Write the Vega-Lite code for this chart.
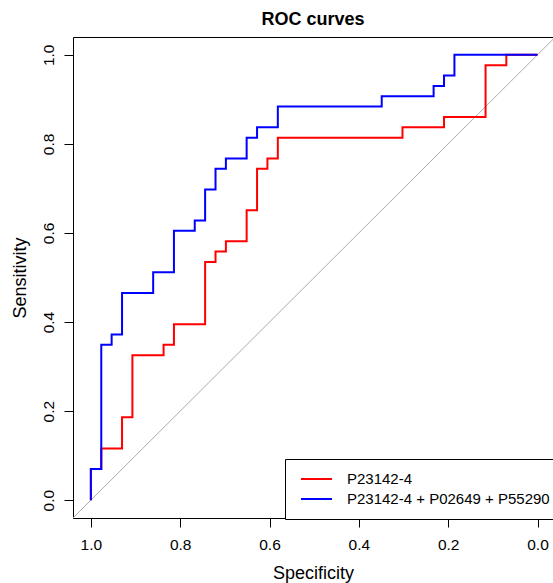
{
  "$schema": "https://vega.github.io/schema/vega-lite/v6.json",
  "autosize": "none",
  "padding": {"left": 73, "top": 37, "right": 0, "bottom": 65},
  "width": 480,
  "height": 481,
  "background": "white",
  "title": {"text": "ROC curves", "fontSize": 18, "fontWeight": "bold", "font": "Liberation Sans", "anchor": "middle", "color": "black", "offset": 8},
  "config": {
    "view": {"stroke": null},
    "font": "Liberation Sans",
    "axis": {"grid": false, "domainColor": "black", "tickColor": "black", "labelColor": "black", "titleColor": "black", "labelFont": "Liberation Sans", "titleFont": "Liberation Sans", "labelFontSize": 15.5, "titleFontSize": 18, "titleFontWeight": "normal", "tickSize": 9, "domainWidth": 1, "tickWidth": 1}
  },
  "datasets": {
    "diag": [{"specificity": 1.04, "sensitivity": -0.04}, {"specificity": -0.04, "sensitivity": 1.04}],
    "roc": [
      {"model": "P23142-4", "i": 1, "specificity": 1, "sensitivity": 0},
      {"model": "P23142-4", "i": 2, "specificity": 1, "sensitivity": 0.0698},
      {"model": "P23142-4", "i": 3, "specificity": 0.9767, "sensitivity": 0.0698},
      {"model": "P23142-4", "i": 4, "specificity": 0.9767, "sensitivity": 0.1163},
      {"model": "P23142-4", "i": 5, "specificity": 0.9302, "sensitivity": 0.1163},
      {"model": "P23142-4", "i": 6, "specificity": 0.9302, "sensitivity": 0.1860},
      {"model": "P23142-4", "i": 7, "specificity": 0.9070, "sensitivity": 0.1860},
      {"model": "P23142-4", "i": 8, "specificity": 0.9070, "sensitivity": 0.3256},
      {"model": "P23142-4", "i": 9, "specificity": 0.8372, "sensitivity": 0.3256},
      {"model": "P23142-4", "i": 10, "specificity": 0.8372, "sensitivity": 0.3488},
      {"model": "P23142-4", "i": 11, "specificity": 0.8140, "sensitivity": 0.3488},
      {"model": "P23142-4", "i": 12, "specificity": 0.8140, "sensitivity": 0.3953},
      {"model": "P23142-4", "i": 13, "specificity": 0.7442, "sensitivity": 0.3953},
      {"model": "P23142-4", "i": 14, "specificity": 0.7442, "sensitivity": 0.5349},
      {"model": "P23142-4", "i": 15, "specificity": 0.7209, "sensitivity": 0.5349},
      {"model": "P23142-4", "i": 16, "specificity": 0.7209, "sensitivity": 0.5581},
      {"model": "P23142-4", "i": 17, "specificity": 0.6977, "sensitivity": 0.5581},
      {"model": "P23142-4", "i": 18, "specificity": 0.6977, "sensitivity": 0.5814},
      {"model": "P23142-4", "i": 19, "specificity": 0.6512, "sensitivity": 0.5814},
      {"model": "P23142-4", "i": 20, "specificity": 0.6512, "sensitivity": 0.6512},
      {"model": "P23142-4", "i": 21, "specificity": 0.6279, "sensitivity": 0.6512},
      {"model": "P23142-4", "i": 22, "specificity": 0.6279, "sensitivity": 0.7442},
      {"model": "P23142-4", "i": 23, "specificity": 0.6047, "sensitivity": 0.7442},
      {"model": "P23142-4", "i": 24, "specificity": 0.6047, "sensitivity": 0.7674},
      {"model": "P23142-4", "i": 25, "specificity": 0.5814, "sensitivity": 0.7674},
      {"model": "P23142-4", "i": 26, "specificity": 0.5814, "sensitivity": 0.8140},
      {"model": "P23142-4", "i": 27, "specificity": 0.3023, "sensitivity": 0.8140},
      {"model": "P23142-4", "i": 28, "specificity": 0.3023, "sensitivity": 0.8372},
      {"model": "P23142-4", "i": 29, "specificity": 0.2093, "sensitivity": 0.8372},
      {"model": "P23142-4", "i": 30, "specificity": 0.2093, "sensitivity": 0.8605},
      {"model": "P23142-4", "i": 31, "specificity": 0.1163, "sensitivity": 0.8605},
      {"model": "P23142-4", "i": 32, "specificity": 0.1163, "sensitivity": 0.9767},
      {"model": "P23142-4", "i": 33, "specificity": 0.0698, "sensitivity": 0.9767},
      {"model": "P23142-4", "i": 34, "specificity": 0.0698, "sensitivity": 1},
      {"model": "P23142-4", "i": 35, "specificity": 0, "sensitivity": 1},
      {"model": "P23142-4 + P02649 + P55290", "i": 1, "specificity": 1, "sensitivity": 0},
      {"model": "P23142-4 + P02649 + P55290", "i": 2, "specificity": 1, "sensitivity": 0.0698},
      {"model": "P23142-4 + P02649 + P55290", "i": 3, "specificity": 0.9767, "sensitivity": 0.0698},
      {"model": "P23142-4 + P02649 + P55290", "i": 4, "specificity": 0.9767, "sensitivity": 0.3488},
      {"model": "P23142-4 + P02649 + P55290", "i": 5, "specificity": 0.9535, "sensitivity": 0.3488},
      {"model": "P23142-4 + P02649 + P55290", "i": 6, "specificity": 0.9535, "sensitivity": 0.3721},
      {"model": "P23142-4 + P02649 + P55290", "i": 7, "specificity": 0.9302, "sensitivity": 0.3721},
      {"model": "P23142-4 + P02649 + P55290", "i": 8, "specificity": 0.9302, "sensitivity": 0.4651},
      {"model": "P23142-4 + P02649 + P55290", "i": 9, "specificity": 0.8605, "sensitivity": 0.4651},
      {"model": "P23142-4 + P02649 + P55290", "i": 10, "specificity": 0.8605, "sensitivity": 0.5116},
      {"model": "P23142-4 + P02649 + P55290", "i": 11, "specificity": 0.8140, "sensitivity": 0.5116},
      {"model": "P23142-4 + P02649 + P55290", "i": 12, "specificity": 0.8140, "sensitivity": 0.6047},
      {"model": "P23142-4 + P02649 + P55290", "i": 13, "specificity": 0.7674, "sensitivity": 0.6047},
      {"model": "P23142-4 + P02649 + P55290", "i": 14, "specificity": 0.7674, "sensitivity": 0.6279},
      {"model": "P23142-4 + P02649 + P55290", "i": 15, "specificity": 0.7442, "sensitivity": 0.6279},
      {"model": "P23142-4 + P02649 + P55290", "i": 16, "specificity": 0.7442, "sensitivity": 0.6977},
      {"model": "P23142-4 + P02649 + P55290", "i": 17, "specificity": 0.7209, "sensitivity": 0.6977},
      {"model": "P23142-4 + P02649 + P55290", "i": 18, "specificity": 0.7209, "sensitivity": 0.7442},
      {"model": "P23142-4 + P02649 + P55290", "i": 19, "specificity": 0.6977, "sensitivity": 0.7442},
      {"model": "P23142-4 + P02649 + P55290", "i": 20, "specificity": 0.6977, "sensitivity": 0.7674},
      {"model": "P23142-4 + P02649 + P55290", "i": 21, "specificity": 0.6512, "sensitivity": 0.7674},
      {"model": "P23142-4 + P02649 + P55290", "i": 22, "specificity": 0.6512, "sensitivity": 0.8140},
      {"model": "P23142-4 + P02649 + P55290", "i": 23, "specificity": 0.6279, "sensitivity": 0.8140},
      {"model": "P23142-4 + P02649 + P55290", "i": 24, "specificity": 0.6279, "sensitivity": 0.8372},
      {"model": "P23142-4 + P02649 + P55290", "i": 25, "specificity": 0.5814, "sensitivity": 0.8372},
      {"model": "P23142-4 + P02649 + P55290", "i": 26, "specificity": 0.5814, "sensitivity": 0.8837},
      {"model": "P23142-4 + P02649 + P55290", "i": 27, "specificity": 0.3488, "sensitivity": 0.8837},
      {"model": "P23142-4 + P02649 + P55290", "i": 28, "specificity": 0.3488, "sensitivity": 0.9070},
      {"model": "P23142-4 + P02649 + P55290", "i": 29, "specificity": 0.2326, "sensitivity": 0.9070},
      {"model": "P23142-4 + P02649 + P55290", "i": 30, "specificity": 0.2326, "sensitivity": 0.9302},
      {"model": "P23142-4 + P02649 + P55290", "i": 31, "specificity": 0.2093, "sensitivity": 0.9302},
      {"model": "P23142-4 + P02649 + P55290", "i": 32, "specificity": 0.2093, "sensitivity": 0.9535},
      {"model": "P23142-4 + P02649 + P55290", "i": 33, "specificity": 0.1860, "sensitivity": 0.9535},
      {"model": "P23142-4 + P02649 + P55290", "i": 34, "specificity": 0.1860, "sensitivity": 1},
      {"model": "P23142-4 + P02649 + P55290", "i": 35, "specificity": 0, "sensitivity": 1}
    ]
  },
  "layer": [
    {
      "data": {"name": "diag"},
      "mark": {"type": "line", "color": "#ABABAB", "strokeWidth": 1, "clip": true},
      "encoding": {
        "x": {"field": "specificity", "type": "quantitative", "scale": {"domain": [-0.0347, 1.04], "reverse": true, "nice": false, "zero": false},
              "axis": {"orient": "top", "labels": false, "ticks": false, "domain": true, "title": null, "values": [0, 1]}},
        "y": {"field": "sensitivity", "type": "quantitative", "scale": {"domain": [-0.04, 1.04], "nice": false, "zero": false},
              "axis": {"values": [0, 0.2, 0.4, 0.6, 0.8, 1], "format": ".1f", "title": "Sensitivity", "labelAngle": -90, "labelAlign": "center", "labelBaseline": "bottom", "labelPadding": 8, "titlePadding": 12}}
      }
    },
    {
      "data": {"name": "roc"},
      "mark": {"type": "line", "strokeWidth": 2, "clip": true, "interpolate": "linear"},
      "encoding": {
        "x": {"field": "specificity", "type": "quantitative", "scale": {"domain": [-0.0347, 1.04], "reverse": true, "nice": false, "zero": false},
              "axis": {"orient": "bottom", "values": [0, 0.2, 0.4, 0.6, 0.8, 1], "format": ".1f", "title": "Specificity", "labelPadding": 10, "titlePadding": 12}},
        "y": {"field": "sensitivity", "type": "quantitative", "scale": {"domain": [-0.04, 1.04], "nice": false, "zero": false}},
        "order": {"field": "i", "type": "quantitative"},
        "color": {"field": "model", "type": "nominal",
                  "scale": {"domain": ["P23142-4", "P23142-4 + P02649 + P55290"], "range": ["#FF0000", "#0000FF"]},
                  "legend": {"title": null, "orient": "none", "legendX": 212, "legendY": 422, "symbolType": "stroke", "symbolSize": 961, "symbolStrokeWidth": 2, "clipHeight": 20, "rowPadding": 0, "padding": 10, "symbolOffset": 5, "labelOffset": 14, "labelFontSize": 15, "labelFont": "Liberation Sans", "labelColor": "black", "strokeColor": "black", "fillColor": "white", "cornerRadius": 0, "labelLimit": 400}}
      }
    }
  ],
  "resolve": {"axis": {"x": "independent"}}
}
